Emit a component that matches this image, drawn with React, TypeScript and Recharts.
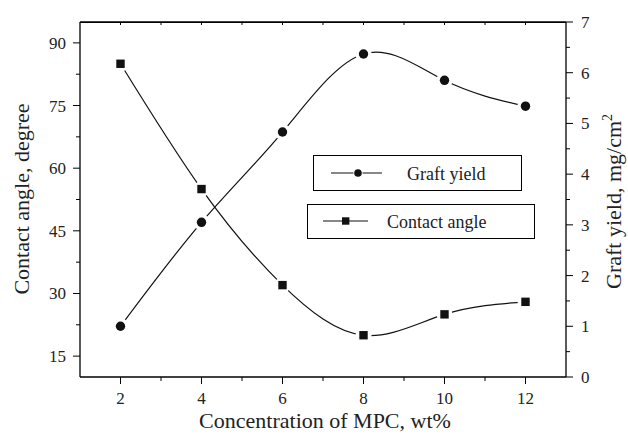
import React from 'react';
import { LineChart, Line, XAxis, YAxis } from 'recharts';

const concentration = [2, 4, 6, 8, 10, 12];
const contactAngle = [85, 55, 32, 20, 25, 28];
const graftYield = [1.0, 3.05, 4.83, 6.37, 5.85, 5.34];

const xTicks = [2, 3, 4, 5, 6, 7, 8, 9, 10, 11, 12];
const topTicks = [2, 3, 4, 5, 6, 7, 8, 9, 10, 11, 12];
const angleTicks = [15, 22.5, 30, 37.5, 45, 52.5, 60, 67.5, 75, 82.5, 90];
const yieldTicks = [0, 0.5, 1, 1.5, 2, 2.5, 3, 3.5, 4, 4.5, 5, 5.5, 6, 6.5, 7];

const data = concentration.map((c, i) => ({ c, angle: contactAngle[i], graft: graftYield[i] }));

const FONT = '"Liberation Serif", "Times New Roman", serif';
const W = 628;
const H = 438;
const MARGIN = { top: 8, right: 0, bottom: 0, left: 0 };
const TOP_H = 14;
const LEFT_W = 80;
const RIGHT_W = 62;
const X_H = 61;
const AXIS = { stroke: '#000', strokeWidth: 1.3 };

const BottomTick = ({ x, y, payload }: any) => {
  const major = payload.value % 2 === 0;
  return (
    <g>
      <line x1={x} x2={x} y1={y} y2={y + (major ? 7 : 4)} stroke="#000" />
      {major && (
        <text x={x} y={y + 27} textAnchor="middle" fontSize={17} fontFamily={FONT} fill="#222">
          {payload.value}
        </text>
      )}
    </g>
  );
};

const TopTick = ({ x, y }: any) => <line x1={x} x2={x} y1={y} y2={y + 3} stroke="#000" />;

const LeftTick = ({ x, y, payload }: any) => {
  const major = payload.value % 15 === 0;
  return (
    <g>
      <line x1={x} x2={x - (major ? 7 : 4)} y1={y} y2={y} stroke="#000" />
      {major && (
        <text x={x - 14} y={y + 6} textAnchor="end" fontSize={17} fontFamily={FONT} fill="#222">
          {payload.value}
        </text>
      )}
    </g>
  );
};

const RightTick = ({ x, y, payload }: any) => {
  const major = Number.isInteger(payload.value);
  return (
    <g>
      <line x1={x} x2={x + (major ? 7 : 4)} y1={y} y2={y} stroke="#000" />
      {major && (
        <text x={x + 15} y={y + 6} textAnchor="start" fontSize={17} fontFamily={FONT} fill="#222">
          {payload.value}
        </text>
      )}
    </g>
  );
};

const SquareDot = (props: any) => {
  const { cx, cy, index } = props;
  return (
    <g key={`sq-${index}`}>
      <circle cx={cx} cy={cy} r={8} fill="#fff" />
      <rect x={cx - 4.2} y={cy - 4.2} width={8.4} height={8.4} fill="#111" />
    </g>
  );
};

const CircleDot = (props: any) => {
  const { cx, cy, index } = props;
  return (
    <g key={`ci-${index}`}>
      <circle cx={cx} cy={cy} r={8.2} fill="#fff" />
      <circle cx={cx} cy={cy} r={4.7} fill="#111" />
    </g>
  );
};

export default function App() {
  const plotTop = MARGIN.top + TOP_H;
  return (
    <div style={{ position: 'relative', width: W, height: H, background: '#fff' }}>
      <style>{`body{margin:0}`}</style>
      <LineChart width={W} height={H} data={data} margin={MARGIN}>
        <XAxis
          dataKey="c"
          type="number"
          domain={[1, 13]}
          ticks={xTicks}
          interval={0}
          height={X_H}
          axisLine={AXIS}
          tickLine={false}
          tickSize={0}
          tickMargin={0}
          tick={<BottomTick />}
        />
        <XAxis
          xAxisId="top"
          orientation="top"
          dataKey="c"
          type="number"
          domain={[1, 13]}
          ticks={topTicks}
          interval={0}
          height={TOP_H}
          axisLine={AXIS}
          tickLine={false}
          tickSize={0}
          tickMargin={0}
          tick={<TopTick />}
        />
        <YAxis
          yAxisId="angle"
          type="number"
          domain={[10, 95]}
          ticks={angleTicks}
          interval={0}
          width={LEFT_W}
          axisLine={AXIS}
          tickLine={false}
          tickSize={0}
          tickMargin={0}
          tick={<LeftTick />}
        />
        <YAxis
          yAxisId="graft"
          orientation="right"
          type="number"
          domain={[0, 7]}
          ticks={yieldTicks}
          interval={0}
          width={RIGHT_W}
          axisLine={AXIS}
          tickLine={false}
          tickSize={0}
          tickMargin={0}
          tick={<RightTick />}
        />
        <Line
          yAxisId="angle"
          dataKey="angle"
          type="natural"
          stroke="#111"
          strokeWidth={1.2}
          dot={SquareDot}
          isAnimationActive={false}
        />
        <Line
          yAxisId="graft"
          xAxisId="top"
          dataKey="graft"
          type="natural"
          stroke="#111"
          strokeWidth={1.2}
          dot={CircleDot}
          isAnimationActive={false}
        />
      </LineChart>
      <div
        style={{
          position: 'absolute',
          left: LEFT_W,
          top: plotTop - 0.5,
          width: W - LEFT_W - RIGHT_W,
          height: 0,
          borderTop: '1.3px solid #000',
          pointerEvents: 'none',
        }}
      />
      <svg width={W} height={H} style={{ position: 'absolute', left: 0, top: 0, pointerEvents: 'none' }}>
        <g fontFamily={FONT} fill="#222">
          <text x={28.5} y={199} transform="rotate(-90 28.5 199)" textAnchor="middle" fontSize={22}>
            Contact angle, degree
          </text>
          <text x={621} y={289} transform="rotate(-90 621 289)" textAnchor="start" fontSize={22}>
            Graft yield, mg/cm<tspan dy={-9} fontSize={14}>2</tspan>
          </text>
          <text x={325} y={428} textAnchor="middle" fontSize={22}>
            Concentration of MPC, wt%
          </text>
        </g>
        <rect x={313.5} y={155.5} width={208} height={35} fill="#fff" stroke="#000" />
        <line x1={331} x2={382} y1={173} y2={173} stroke="#111" strokeWidth={1.2} />
        <circle cx={358} cy={173} r={4.6} fill="#fff" stroke="none" />
        <circle cx={358} cy={173} r={3.8} fill="#111" />
        <text x={407} y={180} fontFamily={FONT} fontSize={18} fill="#222">Graft yield</text>
        <rect x={307.5} y={204.5} width={227} height={34} fill="#fff" stroke="#000" />
        <line x1={323} x2={368} y1={221} y2={221} stroke="#111" strokeWidth={1.2} />
        <rect x={342} y={217.3} width={7.4} height={7.4} fill="#111" />
        <text x={387} y={228} fontFamily={FONT} fontSize={18} fill="#222">Contact angle</text>
      </svg>
    </div>
  );
}
